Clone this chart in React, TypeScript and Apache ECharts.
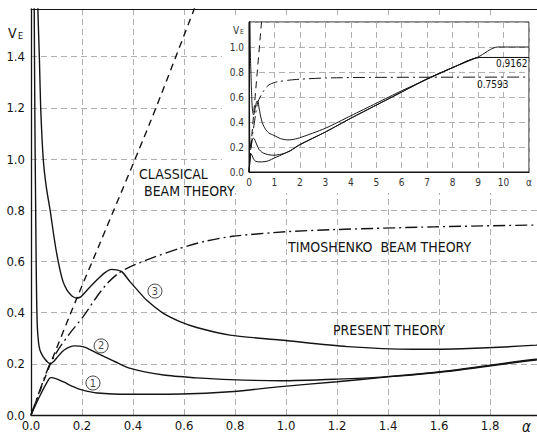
import React, { useEffect, useRef } from 'react';
import * as echarts from 'echarts';

// ---- data (alpha, V_E) ----
const classicalAlpha = [0, 0.07, 0.18, 0.27, 0.47, 0.64, 0.7];
const classicalV = [0, 0.185, 0.457, 0.67, 1.15, 1.586, 1.74];

const timoAlpha = [0, 0.07, 0.11, 0.153, 0.205, 0.26, 0.3, 0.342, 0.39, 0.47, 0.58, 0.68, 0.79, 1.0, 1.18, 1.58, 1.98, 3, 5, 11];
const timoV = [0, 0.19, 0.26, 0.32, 0.385, 0.465, 0.515, 0.553, 0.58, 0.612, 0.65, 0.678, 0.698, 0.716, 0.724, 0.735, 0.742, 0.752, 0.757, 0.7593];

const curve1Alpha = [0, 0.035, 0.07, 0.078, 0.1, 0.13, 0.16, 0.2, 0.26, 0.39, 0.59, 0.78, 0.98, 1.2, 1.37, 1.63, 1.98, 3, 4, 5, 6, 7, 8, 9.06, 11];
const curve1V = [0, 0.075, 0.14, 0.146, 0.141, 0.128, 0.113, 0.098, 0.086, 0.081, 0.082, 0.091, 0.111, 0.13, 0.146, 0.17, 0.215, 0.32, 0.43, 0.535, 0.64, 0.745, 0.835, 0.9162, 0.9162];

const curve2Alpha = [0.012, 0.014, 0.016, 0.018, 0.02, 0.022, 0.025, 0.03, 0.035, 0.045, 0.055, 0.065, 0.075, 0.09, 0.105, 0.13, 0.17, 0.21, 0.26, 0.33, 0.39, 0.52, 0.65, 0.78, 0.98, 1.2, 1.37, 1.63, 1.98, 3, 4, 5, 6, 7, 8, 9.06, 11];
const curve2V = [1.7, 1.35, 1.05, 0.84, 0.62, 0.46, 0.34, 0.28, 0.254, 0.232, 0.218, 0.207, 0.2, 0.21, 0.228, 0.254, 0.27, 0.265, 0.241, 0.208, 0.182, 0.156, 0.145, 0.138, 0.134, 0.14, 0.148, 0.172, 0.218, 0.32, 0.43, 0.535, 0.64, 0.745, 0.835, 0.9162, 0.9162];

const curve3Alpha = [0.024, 0.028, 0.033, 0.038, 0.048, 0.06, 0.075, 0.088, 0.1, 0.113, 0.126, 0.14, 0.153, 0.165, 0.178, 0.19, 0.2, 0.222, 0.261, 0.29, 0.315, 0.335, 0.356, 0.388, 0.42, 0.453, 0.519, 0.584, 0.65, 0.78, 0.977, 1.24, 1.5, 1.69, 1.98, 3, 4, 5, 6, 7.3, 8, 9, 9.76, 11];
const curve3V = [1.7, 1.55, 1.39, 1.2, 1.0, 0.89, 0.8, 0.71, 0.635, 0.57, 0.52, 0.49, 0.473, 0.462, 0.457, 0.459, 0.466, 0.49, 0.53, 0.556, 0.569, 0.567, 0.56, 0.521, 0.485, 0.449, 0.397, 0.365, 0.342, 0.312, 0.293, 0.267, 0.257, 0.259, 0.273, 0.35, 0.45, 0.55, 0.65, 0.77, 0.835, 0.92, 1.0, 1.0];

const circleAlpha = [0.243, 0.275, 0.486];
const circleV = [0.125, 0.27, 0.484];
const circleText = ['1', '2', '3'];

const zip = (a: number[], b: number[]) => a.map((x, i) => [x, b[i]]);

const FONT = "'Liberation Sans Narrow', 'DejaVu Sans Condensed', 'Liberation Sans', sans-serif";
const INK = '#141414';

export default function App() {
  const ref = useRef<HTMLDivElement>(null);
  useEffect(() => {
    const chart = echarts.init(ref.current!, null, { renderer: 'svg' });
    const gridLine = { show: true, lineStyle: { color: '#b0b0b0', type: [6, 4] as any, width: 1 } };
    const fmtStep = (step: number) => (v: number) => {
      const k = v / step;
      return Math.abs(k - Math.round(k)) < 1e-6 ? v.toFixed(1) : '';
    };
    const lineSeries = (name: string, data: number[][], xi: number, yi: number, type: any, width: number, z: number) => ({
      name,
      type: 'line',
      xAxisIndex: xi,
      yAxisIndex: yi,
      data,
      showSymbol: false,
      smooth: 0.25,
      z,
      lineStyle: { color: INK, width, type },
    });
    const dashed = [7, 5];
    const dashDot = [12, 4, 2, 4];
    const curves: [string, number[][], any][] = [
      ['classical', zip(classicalAlpha, classicalV), dashed],
      ['timoshenko', zip(timoAlpha, timoV), dashDot],
      ['c1', zip(curve1Alpha, curve1V), 'solid'],
      ['c2', zip(curve2Alpha, curve2V), 'solid'],
      ['c3', zip(curve3Alpha, curve3V), 'solid'],
    ];
    const series: any[] = [];
    curves.forEach(([n, d, t]) => series.push(lineSeries(n, d, 0, 0, t, 1.4, 2)));
    curves.forEach(([n, d, t]) => series.push(lineSeries(n + '-inset', d, 2, 1, t, 1, 6)));
    series.push({
      type: 'scatter',
      xAxisIndex: 0,
      yAxisIndex: 0,
      symbol: 'circle',
      symbolSize: 14,
      z: 3,
      itemStyle: { color: '#fff', borderColor: INK, borderWidth: 1 },
      label: { show: true, position: 'inside', color: INK, fontSize: 11, fontFamily: FONT, formatter: (p: any) => p.data[2] },
      data: circleAlpha.map((a, i) => [a, circleV[i], circleText[i]]),
    });

    const txt = (text: string, x: number, y: number, size: number, extra: any = {}) => ({
      type: 'text', x, y, z: 10,
      style: { text, fontSize: size, fontFamily: FONT, fill: INK, verticalAlign: 'middle', align: 'left', ...extra },
    });

    chart.setOption({
      animation: false,
      backgroundColor: '#fff',
      grid: [
        { left: 31, top: 9, width: 506, height: 406, show: false },
        { left: 249, top: 22, width: 280, height: 150, show: true, backgroundColor: '#fff', borderColor: INK, borderWidth: 1, z: 4 },
      ],
      xAxis: [
        {
          gridIndex: 0, type: 'value', min: 0, max: 1.984, interval: 0.2, z: 0,
          axisLine: { show: true, onZero: false, lineStyle: { color: INK, width: 1.3 } },
          axisTick: { show: false },
          axisLabel: { formatter: fmtStep(0.2), fontSize: 13, color: INK, margin: 4, fontFamily: FONT, showMaxLabel: false },
          splitLine: gridLine,
        },
        {
          gridIndex: 0, type: 'value', position: 'top', min: 0, max: 1.984, z: 0,
          axisLine: { show: true, onZero: false, lineStyle: { color: INK, width: 1 } },
          axisTick: { show: false }, axisLabel: { show: false }, splitLine: { show: false },
        },
        {
          gridIndex: 1, type: 'value', min: 0, max: 11, interval: 1, z: 5,
          axisLine: { show: true, onZero: false, lineStyle: { color: INK, width: 1 } },
          axisTick: { show: false },
          axisLabel: { formatter: (v: number) => (v === 11 ? 'α' : String(v)), fontSize: 10, color: '#333', margin: 5, fontFamily: FONT },
          splitLine: gridLine,
        },
      ],
      yAxis: [
        {
          gridIndex: 0, type: 'value', min: 0, max: 1.586, interval: 0.2, z: 0,
          axisLine: { show: true, onZero: false, lineStyle: { color: INK, width: 1.3 } },
          axisTick: { show: false },
          axisLabel: { formatter: fmtStep(0.2), fontSize: 13, color: INK, margin: 6, fontFamily: FONT, showMaxLabel: false },
          splitLine: gridLine,
        },
        {
          gridIndex: 1, type: 'value', min: 0, max: 1.2, interval: 0.2, z: 5,
          axisLine: { show: true, onZero: false, lineStyle: { color: INK, width: 1 } },
          axisTick: { show: false },
          axisLabel: { formatter: (v: number) => (v > 1.1 ? '' : v.toFixed(1)), fontSize: 10, color: '#333', margin: 5, fontFamily: FONT },
          splitLine: gridLine,
        },
      ],
      graphic: [
        { type: 'rect', z: 1, shape: { x: 222, y: 17, width: 315, height: 176 }, style: { fill: '#fff' } },
        txt('V', 8, 33, 14),
        txt('E', 18, 36, 9),
        txt('V', 233, 30, 10, { fill: '#333' }),
        txt('E', 240, 32, 7, { fill: '#333' }),
        txt('CLASSICAL', 139, 174, 14),
        txt('BEAM THEORY', 144, 191, 14),
        txt('TIMOSHENKO  BEAM THEORY', 288, 247, 14),
        txt('PRESENT THEORY', 333, 330, 14),
        txt('0.9162', 496, 63, 10),
        txt('0.7593', 477, 84, 10),
        txt('α', 522, 427, 15, { fontStyle: 'italic' }),
      ],
      series,
    });
    return () => chart.dispose();
  }, []);
  return <div ref={ref} style={{ position: 'fixed', left: 0, top: 0, width: 537, height: 437 }} />;
}
